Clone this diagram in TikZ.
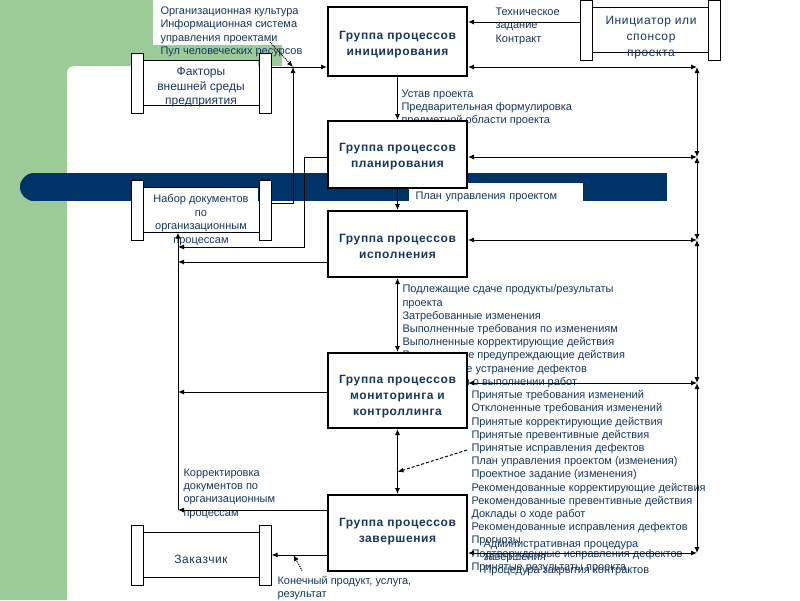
\documentclass[tikz,border=0pt]{standalone}
\usepackage{fontspec}
\setmainfont{Liberation Sans}
\newfontfamily\widefont[LetterSpace=5]{Liberation Sans}
\usetikzlibrary{arrows.meta,calc,positioning}
\definecolor{bggreen}{RGB}{156,203,152}
\definecolor{barblue}{RGB}{0,51,102}
\definecolor{txtblue}{RGB}{23,55,94}

\begin{document}
\begin{tikzpicture}[x=1pt,y=-1pt,line width=1pt,
    >={Latex[length=6pt,width=5pt]},
    grp/.style={draw, line width=2pt, fill=white, minimum width=139pt, inner sep=0pt},
    grptitle/.style={align=center, text=txtblue, inner sep=0pt,
        font=\fontsize{12}{16}\selectfont\widefont\bfseries},
    entbody/.style={fill=white, minimum width=114pt, minimum height=44pt, inner sep=0pt},
    endbar/.style={draw, fill=white, minimum width=12pt, minimum height=60pt, inner sep=0pt},
    enttext/.style={text=txtblue, align=center, inner sep=0pt, font=\fontsize{12}{14.5}\selectfont},
    lbl/.style={text=txtblue, align=left, inner sep=0pt, anchor=north west,
        font=\fontsize{11}{13.2}\selectfont},
    callout/.style={densely dotted, ->}]
    \useasboundingbox (0,0) rectangle (800,600);

    % фон
    \fill[bggreen] (0,0) -- (282,0) -- (282,66) -- (82,66) .. controls (67,66) .. (67,81) -- (67,600) -- (0,600) -- cycle;
    \fill[barblue] (34,173) rectangle (667,201);
    \fill[barblue] (34,187) circle[radius=14pt];
    \fill[white] (153,0) rectangle (300,45);

    % подписи потоков
    \node[lbl] (orgl) at (160,6.5) {Организационная культура\\Информационная система\\управления проектами\\Пул человеческих ресурсов};
    \node[lbl, font=\fontsize{11}{13.6}\selectfont] (tz) at (495,7) {Техническое\\задание\\Контракт};
    \node[lbl] (ustav) at (401,89.5) {Устав проекта\\Предварительная формулировка\\предметной области проекта};
    \node[lbl, fill=white, anchor=west, inner xsep=7pt, text width=160pt, minimum height=27pt] (pup) at (408,196.5) {План управления проектом};
    \node[lbl] (execout) at (402,284.5) {Подлежащие сдаче продукты/результаты\\проекта\\Затребованные изменения\\Выполненные требования по изменениям\\Выполненные корректирующие действия\\Выполненные предупреждающие действия\\Выполненное устранение дефектов\\Информация о выполнении работ};
    \node[lbl] (monout) at (471,390) {Принятые требования изменений\\Отклоненные требования изменений\\Принятые корректирующие действия\\Принятые превентивные действия\\Принятые исправления дефектов\\План управления проектом (изменения)\\Проектное задание (изменения)\\Рекомендованные корректирующие действия\\Рекомендованные превентивные действия\\Доклады о ходе работ\\Рекомендованные исправления дефектов\\Прогнозы\\Подтвержденные исправления дефектов\\Принятые результаты проекта};
    \node[lbl] (admin) at (483,539.5) {Административная процедура\\завершения\\Процедура закрытия контрактов};
    \node[lbl] (korr) at (183,468.5) {Корректировка\\документов по\\организационным\\процессам};
    \node[lbl] (prod) at (277,575.5) {Конечный продукт, услуга,\\результат};

    % внешние участники
    \node[entbody] (env) at (201,83) {};
    \node[endbar, left=0pt of env] (envL) {};
    \node[endbar, right=0pt of env] (envR) {};
    \draw (env.north west) -- (env.north east) (env.south west) -- (env.south east);
    \node[enttext, anchor=north] (env-t) at (201,67) {Факторы\\внешней среды\\предприятия};

    \node[entbody] (docs) at (201,210) {};
    \node[endbar, left=0pt of docs] (docsL) {};
    \node[endbar, right=0pt of docs] (docsR) {};
    \draw (docs.north west) -- (docs.north east) (docs.south west) -- (docs.south east);
    \node[enttext, anchor=north, font=\fontsize{11}{13.5}\selectfont] (docs-t) at (201,194) {Набор документов\\по\\организационным\\процессам};

    \node[entbody] (sponsor) at (650.5,30) {};
    \node[endbar, left=0pt of sponsor] (sponsorL) {};
    \node[endbar, right=0pt of sponsor] (sponsorR) {};
    \draw (sponsor.north west) -- (sponsor.north east) (sponsor.south west) -- (sponsor.south east);
    \node[enttext, anchor=north, font=\fontsize{12}{16}\selectfont\widefont] (sponsor-t) at (651,16) {Инициатор или\\спонсор\\проекта};

    \node[entbody] (client) at (201,555) {};
    \node[endbar, left=0pt of client] (clientL) {};
    \node[endbar, right=0pt of client] (clientR) {};
    \draw (client.north west) -- (client.north east) (client.south west) -- (client.south east);
    \node[enttext, font=\fontsize{12}{14.5}\selectfont\widefont] (client-t) at (201,559) {Заказчик};

    % группы процессов
    \node[grp, minimum height=69pt] (init) at (397.5,41.5) {};
    \node[grptitle] (init-t) at (397.5,45) {Группа процессов\\инициирования};
    \node[grp, minimum height=67pt] (plan) at (397.5,154.5) {};
    \node[grptitle] (plan-t) at (397.5,156.5) {Группа процессов\\планирования};
    \node[grp, minimum height=66pt] (exec) at (397.5,244) {};
    \node[grptitle] (exec-t) at (397.5,246) {Группа процессов\\исполнения};
    \node[grp, minimum height=75pt] (mon) at (397.5,390.5) {};
    \node[grptitle] (mon-t) at (397.5,397) {Группа процессов\\мониторинга и\\контроллинга};
    \node[grp, minimum height=76pt] (close) at (397.5,533) {};
    \node[grptitle] (close-t) at (397.5,532) {Группа процессов\\завершения};

    % точки стыка
    \coordinate (fj) at (293,67);
    \coordinate (orgc) at (270,42);
    \coordinate (dc) at (467,450);
    \coordinate (r1) at (697,67);
    \coordinate (r2) at (697,157);
    \coordinate (r3) at (697,240);
    \coordinate (r4) at (697,383);
    \coordinate (r5) at (697,553);
    \coordinate (l1) at (178,247);
    \coordinate (l2) at (178,262);
    \coordinate (l3) at (178,392);
    \coordinate (l4) at (178,510);

    % входы
    \draw[->] (envR.east |- fj) -- (init.west |- fj);
    \draw[->] ([yshift=7pt]docsR.east) -| (fj);
    \draw[callout] (orgc) -- (fj);
    \draw[->] ([yshift=8pt]sponsorL.west) -- ([yshift=8pt]sponsorL.west -| init.east);

    % между группами
    \draw[->] (init.south) -- (plan.north);
    \draw[->] (plan.south) -- (exec.north);
    \draw[<->] (exec.south) -- (mon.north);
    \draw[<->] (mon.south) -- (close.north);
    \draw[densely dashed, ->] (dc) -- ($(mon.south)!0.66!(close.north)$);

    % правая шина
    \draw[<->] (init.east |- r1) -- (r1);
    \draw[<->] (plan.east |- r2) -- (r2);
    \draw[<->] (exec.east |- r3) -- (r3);
    \draw[<->] (mon.east |- r4) -- (r4);
    \draw[<->] (close.east |- r5) -- (r5);
    \draw[<->] (r1) -- (r2);
    \draw[<->] (r2) -- (r3);
    \draw[<->] (r3) -- (r4);
    \draw[<->] (r4) -- (r5);

    % левая шина
    \draw[->] (plan.west |- r2) -- ++(-23,0) |- (l1);
    \draw[->] (exec.west |- l2) -- (l2);
    \draw[->] (mon.west |- l3) -- (l3);
    \draw[->] (close.west |- l4) -- (l4);
    \draw[->] (l4) -- (docs.south -| l4);

    % выход
    \draw[->] (close.west |- clientR) -- (clientR.east);
    \draw[callout] ([shift={(25pt,5pt)}]prod.north west) -- ([xshift=22pt]clientR.east);
\end{tikzpicture}
\end{document}
